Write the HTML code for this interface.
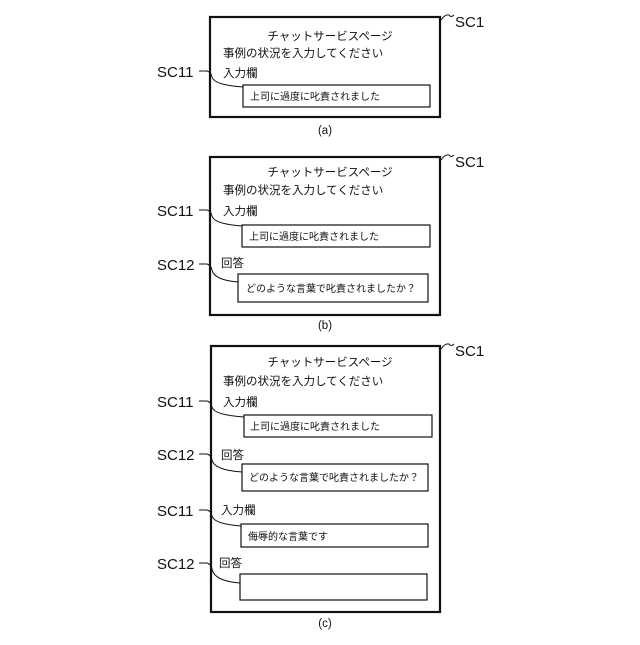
<!DOCTYPE html>
<html><head><meta charset="utf-8"><style>
html,body{margin:0;padding:0;background:#fff;}
svg text{font-family:"Liberation Sans","Noto Sans CJK JP",sans-serif;fill:#111;}
.j{font-size:11.5px;}
.s{font-size:10px;}
.l{font-size:15px;}
</style></head><body>
<svg width="640" height="640" viewBox="0 0 640 640" xmlns="http://www.w3.org/2000/svg">
<g fill="none" stroke="#111">
<!-- (a) -->
<rect x="210" y="17" width="230" height="100" stroke-width="2.2"/>
<rect x="243" y="85" width="187" height="22" stroke-width="1.2"/>
<path d="M441 20 q4 -6 8 -5 q2 3 5 0" stroke-width="1"/>
<path d="M199 71 h8 q4 1 5 6 q2 8 31 10" stroke-width="1"/>
<!-- (b) -->
<rect x="210" y="157" width="230" height="158" stroke-width="2.2"/>
<rect x="242" y="225" width="188" height="22" stroke-width="1.2"/>
<rect x="238" y="274" width="190" height="28" stroke-width="1.2"/>
<path d="M441 160 q4 -6 8 -5 q2 3 5 0" stroke-width="1"/>
<path d="M199 210 h8 q4 1 5 6 q2 8 30 10" stroke-width="1"/>
<path d="M199 264 h8 q4 1 5 6 q2 10 26 12" stroke-width="1"/>
<!-- (c) -->
<rect x="211" y="346" width="229" height="266" stroke-width="2.2"/>
<rect x="244" y="415" width="188" height="22" stroke-width="1.2"/>
<rect x="242" y="464" width="186" height="27" stroke-width="1.2"/>
<rect x="241" y="524" width="187" height="23" stroke-width="1.2"/>
<rect x="240" y="574" width="187" height="26" stroke-width="1.2"/>
<path d="M441 349 q4 -6 8 -5 q2 3 5 0" stroke-width="1"/>
<path d="M199 401 h8 q4 1 5 6 q2 8 32 10" stroke-width="1"/>
<path d="M199 454 h8 q4 1 5 6 q2 10 30 12" stroke-width="1"/>
<path d="M199 510 h8 q4 1 5 6 q2 8 29 10" stroke-width="1"/>
<path d="M199 563 h8 q4 1 5 6 q2 12 28 14" stroke-width="1"/>
</g>
<!-- labels a -->
<text class="l" x="455" y="27">SC1</text>
<text class="j" x="330" y="40" text-anchor="middle">チャットサービスページ</text>
<text class="j" x="223" y="57">事例の状況を入力してください</text>
<text class="j" x="223" y="77">入力欄</text>
<text class="l" x="157" y="77">SC11</text>
<text class="s" x="250" y="100">上司に過度に叱責されました</text>
<text class="j" x="325" y="134" text-anchor="middle">(a)</text>
<!-- b -->
<text class="l" x="455" y="167">SC1</text>
<text class="j" x="330" y="176" text-anchor="middle">チャットサービスページ</text>
<text class="j" x="223" y="194">事例の状況を入力してください</text>
<text class="j" x="223" y="215">入力欄</text>
<text class="l" x="157" y="216">SC11</text>
<text class="s" x="249" y="240">上司に過度に叱責されました</text>
<text class="j" x="221" y="267">回答</text>
<text class="l" x="157" y="270">SC12</text>
<text class="s" x="246" y="292">どのような言葉で叱責されましたか？</text>
<text class="j" x="325" y="329" text-anchor="middle">(b)</text>
<!-- c -->
<text class="l" x="455" y="356">SC1</text>
<text class="j" x="330" y="366" text-anchor="middle">チャットサービスページ</text>
<text class="j" x="223" y="385">事例の状況を入力してください</text>
<text class="j" x="223" y="406">入力欄</text>
<text class="l" x="157" y="407">SC11</text>
<text class="s" x="250" y="430">上司に過度に叱責されました</text>
<text class="j" x="221" y="459">回答</text>
<text class="l" x="157" y="460">SC12</text>
<text class="s" x="249" y="481">どのような言葉で叱責されましたか？</text>
<text class="j" x="221" y="514">入力欄</text>
<text class="l" x="157" y="516">SC11</text>
<text class="s" x="248" y="540">侮辱的な言葉です</text>
<text class="j" x="219" y="567">回答</text>
<text class="l" x="157" y="569">SC12</text>
<text class="j" x="325" y="627" text-anchor="middle">(c)</text>
</svg>
</body></html>
